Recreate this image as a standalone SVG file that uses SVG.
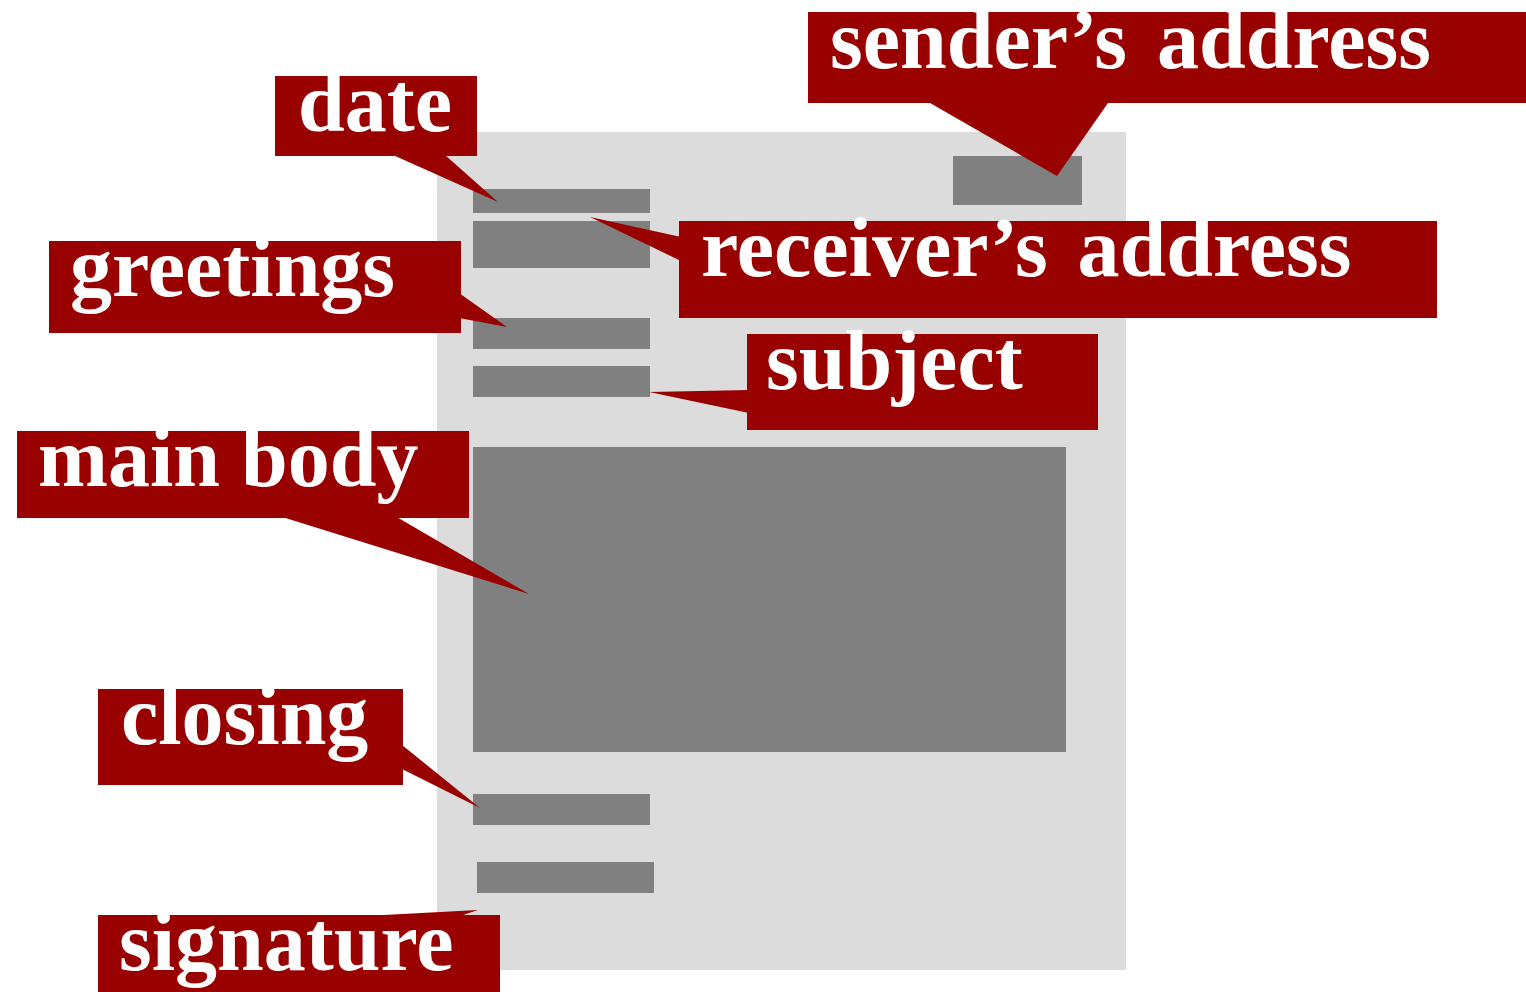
<svg xmlns="http://www.w3.org/2000/svg" width="1526" height="992" viewBox="0 0 1526 992">
<style>
.page{fill:#DCDCDC}
.blk{fill:#808080}
.call{fill:#990000}
.lbl{fill:#FFFFFF;font-family:"Liberation Serif","Times New Roman",serif;font-weight:bold;font-size:84px}
.wide{word-spacing:9px}
</style>
<rect width="1526" height="992" fill="#FFFFFF"/>
<g id="page">
<rect class="page" x="437" y="132" width="689" height="838"/>
<rect class="blk" x="953" y="156" width="129" height="49"/>
<rect class="blk" x="473" y="189" width="177" height="24"/>
<rect class="blk" x="473" y="221" width="177" height="47"/>
<rect class="blk" x="473" y="318" width="177" height="31"/>
<rect class="blk" x="473" y="366" width="177" height="31"/>
<rect class="blk" x="473" y="447" width="593" height="305"/>
<rect class="blk" x="473" y="794" width="177" height="31"/>
<rect class="blk" x="477" y="862" width="177" height="31"/>
</g>
<g id="connectors">
<polygon class="call" points="930,103 1108,103 1057,176"/>
<polygon class="call" points="393,155 445,155 498,202"/>
<polygon class="call" points="590,217 681,237 681,261"/>
<polygon class="call" points="459,293 459,318 507,327"/>
<polygon class="call" points="649,392 749,390 749,413"/>
<polygon class="call" points="279,516 395,516 529,594"/>
<polygon class="call" points="402,745 402,769 480,808"/>
<polygon class="call" points="365,916 478,910 460,916"/>
</g>
<g id="sender">
<rect class="call" x="808" y="12" width="718" height="91"/>
<text class="lbl wide" x="830" y="68">sender’s address</text>
</g>
<g id="date">
<rect class="call" x="275" y="76" width="202" height="80"/>
<text class="lbl" x="298" y="131">date</text>
</g>
<g id="receiver">
<rect class="call" x="679" y="221" width="758" height="97"/>
<text class="lbl wide" x="701" y="276">receiver’s address</text>
</g>
<g id="greetings">
<rect class="call" x="49" y="241" width="412" height="92"/>
<text class="lbl" x="70" y="296">greetings</text>
</g>
<g id="subject">
<rect class="call" x="747" y="334" width="351" height="96"/>
<text class="lbl" x="766" y="389">subject</text>
</g>
<g id="mainbody">
<rect class="call" x="17" y="431" width="452" height="87"/>
<text class="lbl" x="38" y="486">main body</text>
</g>
<g id="closing">
<rect class="call" x="98" y="689" width="305" height="96"/>
<text class="lbl" x="121" y="744">closing</text>
</g>
<g id="signature">
<rect class="call" x="98" y="915" width="402" height="77"/>
<text class="lbl" x="119" y="970">signature</text>
</g>
</svg>
